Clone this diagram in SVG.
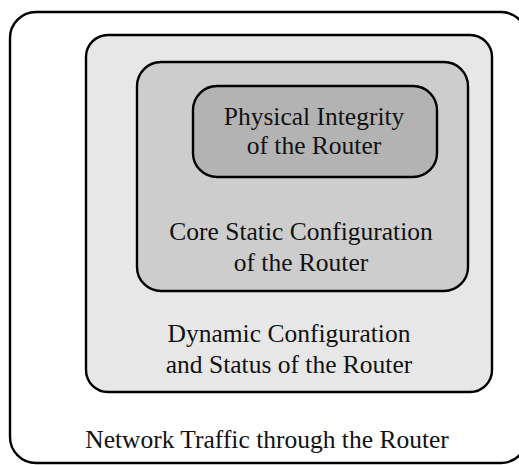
<svg xmlns="http://www.w3.org/2000/svg" width="519" height="465" viewBox="0 0 519 465">
<style>
.box{stroke:#000;stroke-width:2.4}
.t{font-family:"Liberation Serif","Times New Roman",serif;font-size:25.5px;fill:#111;text-anchor:middle}
</style>
<rect width="519" height="465" fill="#fff"/>
<g id="network-traffic">
<rect class="box" x="10" y="12" width="517" height="451" rx="26" fill="#fff"/>
<text class="t" x="267" y="448">Network Traffic through the Router</text>
</g>
<g id="dynamic-configuration">
<rect class="box" x="86" y="35" width="406" height="357" rx="22" fill="#e7e7e7"/>
<text class="t" x="289" y="342">Dynamic Configuration</text>
<text class="t" x="289" y="373">and Status of the Router</text>
</g>
<g id="core-static-configuration">
<rect class="box" x="137" y="62" width="331" height="229" rx="24" fill="#cdcdcd"/>
<text class="t" x="301" y="240">Core Static Configuration</text>
<text class="t" x="301" y="271">of the Router</text>
</g>
<g id="physical-integrity">
<rect class="box" x="193" y="86" width="244" height="91" rx="24" fill="#b3b3b3"/>
<text class="t" x="314" y="125">Physical Integrity</text>
<text class="t" x="314" y="154">of the Router</text>
</g>
<g id="connectors"></g>
</svg>
